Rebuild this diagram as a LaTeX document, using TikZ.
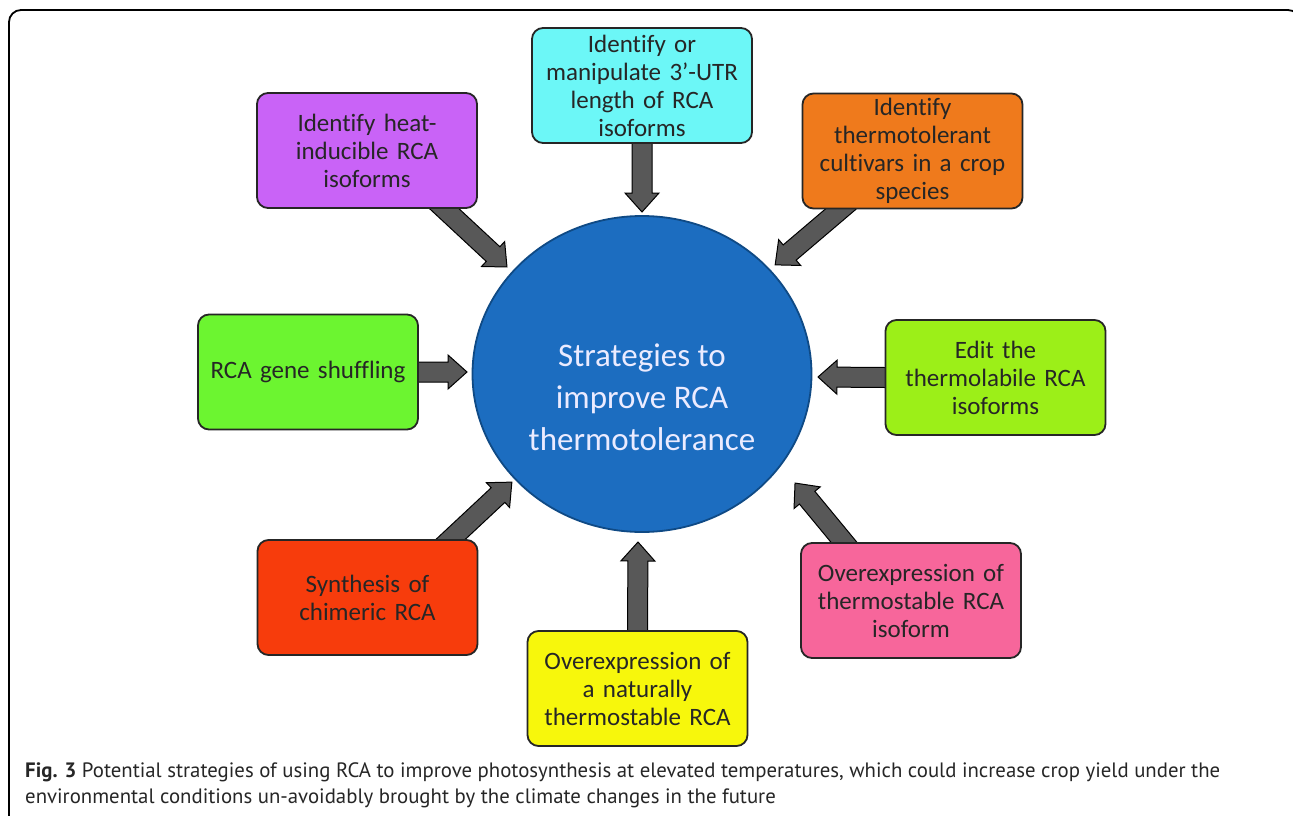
\documentclass[tikz,border=0pt]{standalone}
\usepackage{fontspec}
\setmainfont{Carlito}[Ligatures=NoCommon]
\newfontfamily\capfont{PT Sans}
\usetikzlibrary{calc,backgrounds,shapes.geometric}

\definecolor{heatcol}{HTML}{C963F7}
\definecolor{utrcol}{HTML}{6CF7F7}
\definecolor{cultcol}{HTML}{EF7A1C}
\definecolor{shufcol}{HTML}{6CF530}
\definecolor{editcol}{HTML}{9CEF18}
\definecolor{chimcol}{HTML}{F73C0C}
\definecolor{natcol}{HTML}{F7F70C}
\definecolor{stabcol}{HTML}{F7669B}
\definecolor{corecol}{HTML}{1C6DC0}
\definecolor{coreedge}{HTML}{0F4A85}
\definecolor{arrowcol}{HTML}{585858}

\tikzset{
  strat/.style={draw=black!85, line width=1.8pt, rounded corners=11pt,
    minimum width=220pt, minimum height=115pt, inner sep=0pt,
    align=center, text width=212pt, text=black!85,
    font=\fontsize{25}{28}\selectfont},
  fatarrow/.style={fill=arrowcol, draw=black, line width=1pt},
}

% block arrow from #1 to #2
\newcommand{\blockarrow}[2]{%
  \filldraw[fatarrow] let \p1=($(#2)-(#1)$), \n1={atan2(\y1,\x1)}, \n2={veclen(\x1,\y1)} in
    [shift={(#1)}, rotate=\n1] (-12,-10) -- (\n2-19,-10) -- (\n2-19,-17) -- (\n2,0)
    -- (\n2-19,17) -- (\n2-19,10) -- (-12,10) -- cycle;}

\begin{document}
\begin{tikzpicture}[x=1pt, y=-1pt]
  \useasboundingbox (0,0) rectangle (1293,816);
  \clip (0,0) rectangle (1293,816);

  % frame
  \draw[line width=1.8pt, rounded corners=12pt] (9,830) -- (9,10) -- (1300,10) -- (1300,830);

  % centre
  \node[ellipse, draw=coreedge, line width=1.8pt, fill=corecol, minimum width=339pt,
    minimum height=316pt, inner sep=0pt] (core) at (642,374) {};
  \node[align=center, text=white!92!blue, font=\fontsize{33}{42}\selectfont] (coretext) at (642,397)
    {Strategies to\\improve RCA\\thermotolerance};

  % strategies
  \node[strat, fill=heatcol] (heat) at (367,150.5) {Identify heat-\\inducible RCA\\isoforms};
  \node[strat, fill=utrcol] (utr) at (642,85.5) {Identify or\\manipulate 3’-UTR\\length of RCA\\isoforms};
  \node[strat, fill=cultcol] (cultivar) at (912.5,151) {Identify\\thermotolerant\\cultivars in a crop\\species};
  \node[strat, fill=shufcol] (shuffle) at (308,372) {RCA gene shuffling};
  \node[strat, fill=editcol] (edit) at (995.5,377.5) {Edit the\\thermolabile RCA\\isoforms};
  \node[strat, fill=chimcol] (chimera) at (367.5,597.5) {Synthesis of\\chimeric RCA};
  \node[strat, fill=natcol] (natural) at (637.5,688.5) {Overexpression of\\a naturally\\thermostable RCA};
  \node[strat, fill=stabcol] (stable) at (911,600.5) {Overexpression of\\thermostable RCA\\isoform};

  % arrow tips
  \coordinate (utr-tip) at (642,212);
  \coordinate (heat-tip) at (507,267);
  \coordinate (cultivar-tip) at (775,265);
  \coordinate (shuffle-tip) at (467,372);
  \coordinate (edit-tip) at (818,377);
  \coordinate (chimera-tip) at (512,482);
  \coordinate (natural-tip) at (638,542);
  \coordinate (stable-tip) at (795,483);

  \begin{scope}[on background layer]
    \blockarrow{utr.south}{utr-tip}
    \blockarrow{heat.-37.5}{heat-tip}
    \blockarrow{cultivar.-141}{cultivar-tip}
    \blockarrow{shuffle.east}{shuffle-tip}
    \blockarrow{edit.west}{edit-tip}
    \blockarrow{chimera.35}{chimera-tip}
    \blockarrow{natural.north}{natural-tip}
    \blockarrow{stable.139}{stable-tip}
  \end{scope}

  % caption
  \node[anchor=north west, align=left, inner sep=0pt, text=black!85,
    font=\capfont\fontsize{20.8}{26}\selectfont]
    (caption) at (25,762)
    {\textbf{Fig. 3} Potential strategies of using RCA to improve photosynthesis at elevated temperatures, which could increase crop yield under the\\
     environmental conditions un-avoidably brought by the climate changes in the future};
\end{tikzpicture}
\end{document}
